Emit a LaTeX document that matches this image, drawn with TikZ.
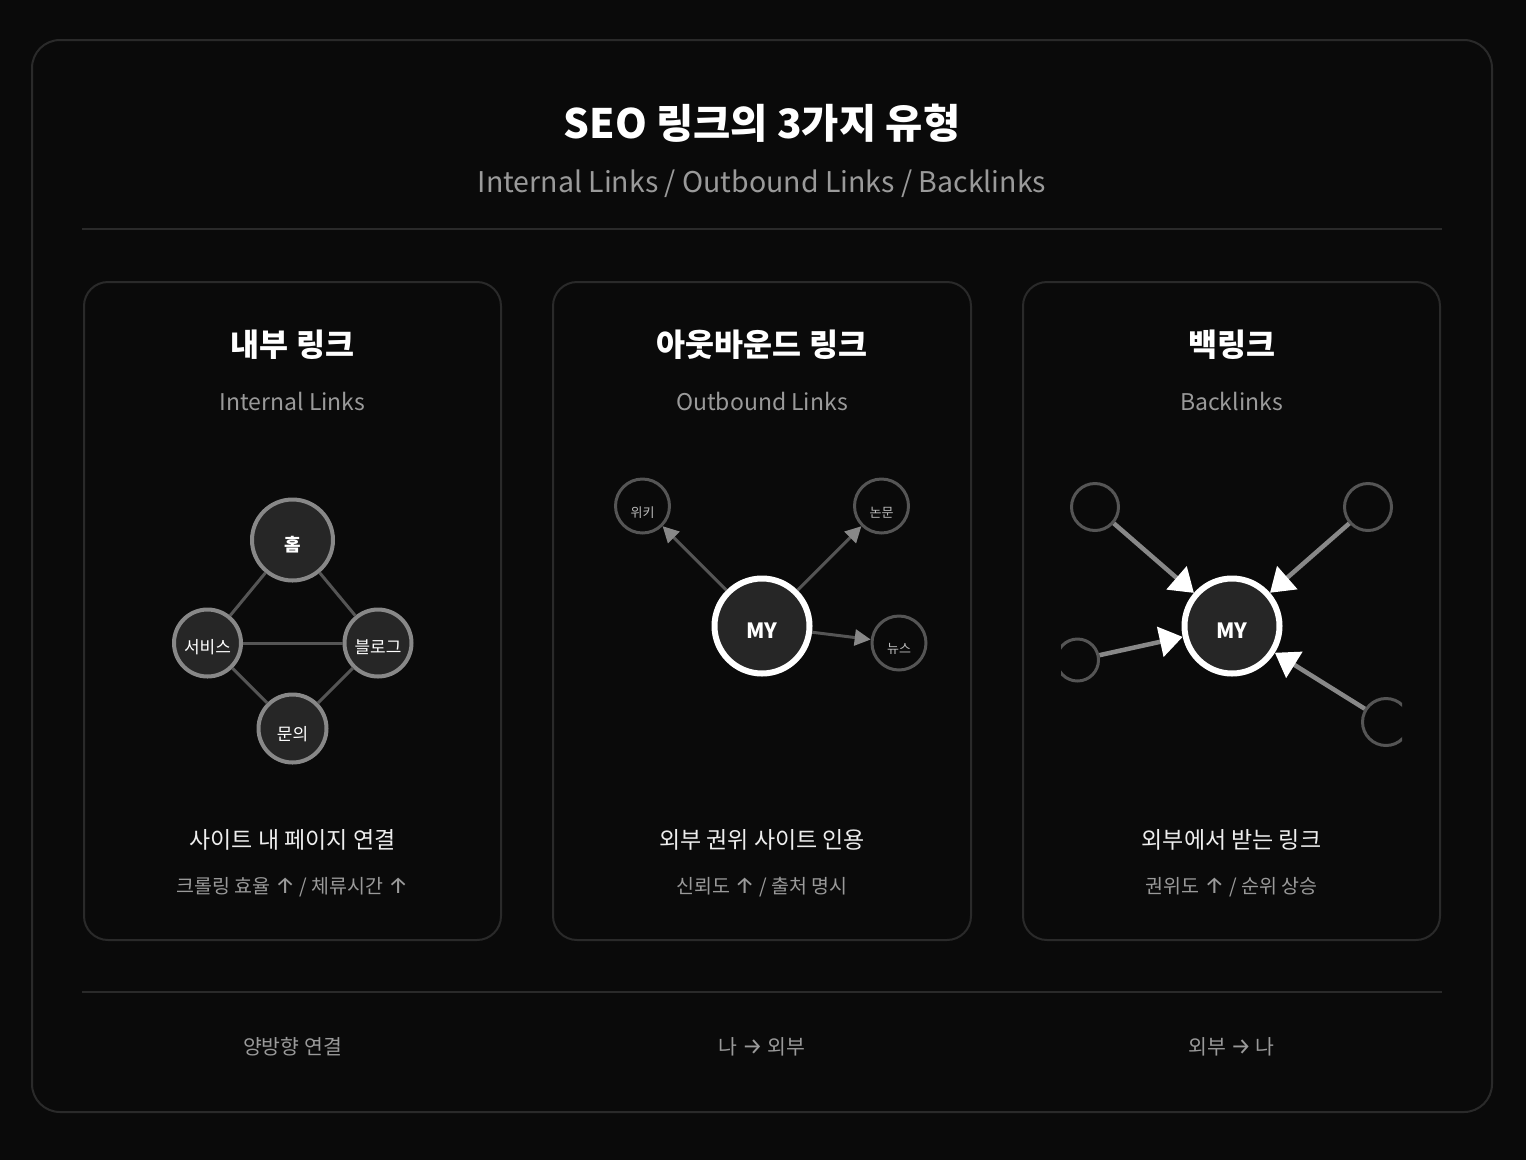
\documentclass[tikz,border=0pt]{standalone}
\usepackage{fontspec}
\setmainfont{Noto Sans CJK KR}
\newfontfamily\arrowfont{Fira Sans}
\newcommand{\uparr}{{\arrowfont\fontsize{23}{23}\selectfont ↑}}
\newcommand{\rarr}{{\arrowfont\fontsize{23}{23}\selectfont →}}
\usetikzlibrary{arrows.meta}
\definecolor{bg}{HTML}{0A0A0A}
\definecolor{frameline}{HTML}{2A2A2A}
\definecolor{nodefill}{HTML}{262626}
\definecolor{ringgray}{HTML}{888888}
\definecolor{edgegray}{HTML}{555555}
\definecolor{subgray}{HTML}{9A9A9A}
\definecolor{descwhite}{HTML}{EEEEEE}
\definecolor{smallgray}{HTML}{BBBBBB}
\tikzset{
  fs/.style={font=\fontsize{#1}{#1}\selectfont},
  fsb/.style={font=\fontsize{#1}{#1}\selectfont\bfseries},
  card/.style={draw=frameline, line width=2pt, rounded corners=24pt, fill=bg},
  divider/.style={draw=frameline, line width=2pt},
  txt/.style={inner sep=0pt, anchor=center},
  inode/.style={circle, inner sep=0pt, draw=ringgray, line width=4pt, fill=nodefill},
  mynode/.style={circle, inner sep=0pt, minimum size=95pt, draw=white, line width=6pt, fill=nodefill},
  onode/.style={circle, inner sep=0pt, minimum size=54pt, draw=edgegray, line width=3pt, fill=bg},
  bnode/.style={circle, inner sep=0pt, minimum size=47pt, draw=edgegray, line width=3pt, fill=bg},
  iedge/.style={draw=edgegray, line width=3pt},
  oedge/.style={draw=edgegray, line width=3pt, -{Triangle[length=16pt,width=16pt,color=ringgray]}},
  bedge/.style={draw=ringgray, line width=4.5pt, -{Triangle[length=23pt,width=30pt,color=white]}},
}
\begin{document}
\begin{tikzpicture}[x=1pt,y=-1pt]
\useasboundingbox (0,0) rectangle (1526,1160);
\fill[bg] (0,0) rectangle (1526,1160);
% outer frame
\draw[draw=frameline, line width=2pt, rounded corners=28pt] (32,40) rectangle (1492,1112);
% header
\node[txt, fsb=40.5, text=white] (title) at (762,123) {SEO 링크의 3가지 유형};
\node[txt, fs=28.5, text=subgray] (subtitle) at (762,184) {Internal Links / Outbound Links / Backlinks};
\draw[divider] (82,229) -- (1442,229);
\draw[divider] (82,992) -- (1442,992);
% cards
\draw[card] (84,282) rectangle (501,940);
\draw[card] (553,282) rectangle (971,940);
\draw[card] (1023,282) rectangle (1440,940);
% card titles
\node[txt, fsb=31.5, text=white] (t1) at (292.5,345) {내부 링크};
\node[txt, fsb=31.5, text=white] (t2) at (762,345) {아웃바운드 링크};
\node[txt, fsb=31.5, text=white] (t3) at (1231.5,345) {백링크};
\node[txt, fs=23, text=subgray] (s1) at (292.5,401) {Internal Links};
\node[txt, fs=23, text=subgray] (s2) at (762,401) {Outbound Links};
\node[txt, fs=23, text=subgray] (s3) at (1231.5,401) {Backlinks};
% descriptions
\node[txt, fs=23, text=descwhite] (d1) at (292.5,840) {사이트 내 페이지 연결};
\node[txt, fs=23, text=descwhite] (d2) at (762,840) {외부 권위 사이트 인용};
\node[txt, fs=23, text=descwhite] (d3) at (1231.5,840) {외부에서 받는 링크};
\node[txt, fs=19.5, text=subgray] (e1) at (292.5,887) {크롤링 효율 \uparr{} / 체류시간 \uparr};
\node[txt, fs=19.5, text=subgray] (e2) at (762,887) {신뢰도 \uparr{} / 출처 명시};
\node[txt, fs=19.5, text=subgray] (e3) at (1231.5,887) {권위도 \uparr{} / 순위 상승};
% bottom labels
\node[txt, fs=20.5, text=subgray] (b1) at (292.5,1047) {양방향 연결};
\node[txt, fs=20.5, text=subgray] (b2) at (762,1047) {나 \rarr{} 외부};
\node[txt, fs=20.5, text=subgray] (b3) at (1231.5,1047) {외부 \rarr{} 나};
% internal graph
\node[inode, minimum size=81pt] (home) at (292.5,540) {};
\node[inode, minimum size=67pt] (svc) at (207.5,643) {};
\node[inode, minimum size=67pt] (blog) at (378,643) {};
\node[inode, minimum size=68pt] (ask) at (292.5,728.5) {};
\draw[iedge] (home) -- (svc);
\draw[iedge] (home) -- (blog);
\draw[iedge] (svc) -- (blog);
\draw[iedge] (svc) -- (ask);
\draw[iedge] (blog) -- (ask);
\node[txt, fsb=18, text=white] (homet) at (292.5,545) {홈};
\node[txt, fs=17, text=white] (svct) at (207.5,647) {서비스};
\node[txt, fs=17, text=white] (blogt) at (378,647) {블로그};
\node[txt, fs=17, text=white] (askt) at (292.5,734) {문의};
% outbound graph
\node[mynode] (my1) at (762,626) {};
\node[onode] (wiki) at (642.5,506) {};
\node[onode] (paper) at (881.5,506) {};
\node[onode] (news) at (899,643) {};
\draw[oedge] (my1) -- (wiki);
\draw[oedge] (my1) -- (paper);
\draw[oedge] (my1) -- (news);
\node[txt, fsb=21, text=white] (my1t) at (762,631) {MY};
\node[txt, fs=13, text=smallgray] (wikit) at (642.5,513) {위키};
\node[txt, fs=13, text=smallgray] (papert) at (881.5,513) {논문};
\node[txt, fs=13, text=smallgray] (newst) at (899,649) {뉴스};
% backlinks graph
\begin{scope}
\clip (1061,440) rectangle (1402,800);
\node[mynode] (my2) at (1232,626) {};
\node[bnode] (bl1) at (1095,507) {};
\node[bnode] (bl2) at (1368,507) {};
\node[bnode, minimum size=42pt] (bl3) at (1077.5,660) {};
\node[bnode] (bl4) at (1386,722) {};
\draw[bedge] (bl1) -- (my2);
\draw[bedge] (bl2) -- (my2);
\draw[bedge] (bl3) -- (my2);
\draw[bedge] (bl4) -- (my2);
\node[txt, fsb=21, text=white] (my2t) at (1232,631) {MY};
\end{scope}
\end{tikzpicture}
\end{document}
